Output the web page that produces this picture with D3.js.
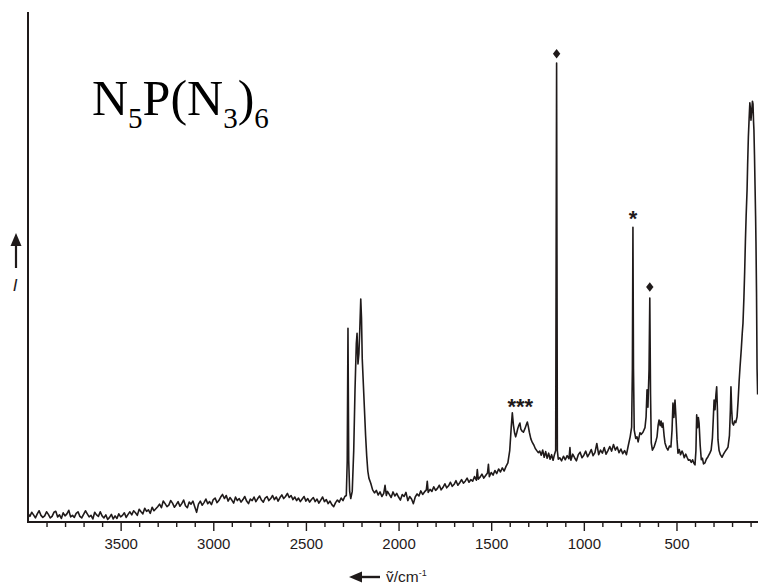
<!DOCTYPE html>
<html><head><meta charset="utf-8">
<script src="https://cdn.jsdelivr.net/npm/d3@7"></script>
<style>body{margin:0;background:#fff} svg{display:block}</style>
</head><body>
<svg id="c" width="758" height="586"></svg>
<script>
// x axis: wavenumber (cm^-1), reversed
const majorTicks = [3500, 3000, 2500, 2000, 1500, 1000, 500];
const minorStep = 100;
// spectrum: [wavenumber, relative intensity]
const spectrum = [
[4000,1.7],[3990,1.1],[3980,1.9],[3970,1.4],[3960,0.8],[3950,1.6],[3940,2.2],[3930,1.3],[3920,0.9],[3910,1.2],
[3900,2.0],[3890,1.5],[3880,0.8],[3870,1.1],[3860,1.9],[3850,2.1],[3840,1.0],[3830,1.4],[3820,0.7],[3810,1.8],
[3800,1.2],[3790,1.6],[3780,2.3],[3770,1.0],[3760,1.3],[3750,0.9],[3740,1.7],[3730,2.0],[3720,1.1],[3710,0.8],
[3700,1.5],[3690,2.2],[3680,1.6],[3670,1.0],[3660,1.3],[3650,0.6],[3640,1.9],[3630,1.4],[3620,1.1],[3610,2.0],
[3600,1.2],[3590,0.8],[3580,1.4],[3570,0.5],[3560,0.9],[3550,1.5],[3540,0.6],[3530,1.2],[3520,0.7],[3510,1.6],
[3500,1.0],[3490,1.3],[3480,1.8],[3470,0.9],[3460,1.5],[3450,2.0],[3440,1.4],[3430,2.2],[3420,1.8],[3410,1.3],
[3400,2.5],[3390,2.0],[3380,1.6],[3370,2.7],[3360,2.1],[3350,2.4],[3340,1.7],[3330,2.9],[3320,2.2],[3310,2.6],
[3300,3.0],[3290,3.5],[3280,2.8],[3270,4.1],[3260,3.6],[3250,3.0],[3240,3.3],[3230,4.2],[3220,3.7],[3210,2.9],
[3200,3.4],[3190,4.0],[3180,3.1],[3170,3.6],[3160,4.3],[3150,3.2],[3140,2.8],[3130,3.9],[3120,3.5],[3110,4.1],
[3100,3.0],[3090,1.9],[3080,3.5],[3070,4.1],[3060,3.3],[3050,3.8],[3040,4.5],[3030,3.6],[3020,4.0],[3010,3.4],
[3000,4.4],[2990,4.7],[2980,3.8],[2970,4.2],[2960,4.9],[2950,5.4],[2940,4.6],[2930,5.2],[2920,4.1],[2910,4.8],
[2900,4.3],[2890,3.7],[2880,4.9],[2870,4.2],[2860,4.6],[2850,3.9],[2840,4.4],[2830,5.0],[2820,4.1],[2810,3.6],
[2800,4.5],[2790,4.2],[2780,4.9],[2770,4.0],[2760,4.6],[2750,5.1],[2740,4.3],[2730,3.9],[2720,4.7],[2710,5.0],
[2700,4.2],[2690,4.6],[2680,5.2],[2670,4.4],[2660,4.9],[2650,4.1],[2640,4.8],[2630,5.3],[2620,4.6],[2610,5.0],
[2600,5.6],[2590,4.8],[2580,5.2],[2570,4.4],[2560,4.9],[2550,4.2],[2540,4.7],[2530,4.0],[2520,4.5],[2510,5.0],
[2500,4.1],[2490,4.6],[2480,3.9],[2470,4.4],[2460,4.8],[2450,4.0],[2440,4.5],[2430,3.7],[2420,4.3],[2410,4.9],
[2400,4.0],[2390,4.4],[2380,3.6],[2370,4.1],[2360,3.4],[2350,3.0],[2340,3.8],[2330,4.3],[2320,3.9],[2310,4.7],
[2300,4.2],[2290,5.0],[2282,5.2],[2277,12],[2273,38],[2269,12],[2264,6.0],[2258,4.6],[2250,6.0],[2242,14],
[2235,26],[2228,35],[2224,37],[2219,31],[2214,33],[2209,38],[2204,43.7],[2200,40],[2196,32],[2190,27],
[2184,22],[2178,17],[2172,13],[2166,10],[2160,8.6],[2150,7.6],[2140,6.3],[2130,5.7],[2120,6.2],[2110,5.3],
[2100,5.9],[2090,5.0],[2080,5.6],[2073,7.2],[2066,5.2],[2060,6.0],[2050,5.4],[2040,4.8],[2030,5.9],[2020,5.1],
[2010,5.6],[2000,4.9],[1990,4.3],[1980,5.4],[1970,5.0],[1960,5.8],[1950,4.2],[1940,5.0],[1930,4.5],[1920,3.6],
[1910,4.9],[1900,5.5],[1890,5.1],[1880,6.1],[1870,5.4],[1860,5.9],[1850,6.3],[1845,8.0],[1840,5.8],[1830,6.4],
[1820,6.0],[1810,6.9],[1800,6.2],[1790,6.6],[1780,7.2],[1770,6.3],[1760,6.8],[1750,7.5],[1740,6.7],[1730,7.1],
[1720,7.8],[1710,7.0],[1700,7.4],[1690,8.1],[1680,7.2],[1670,7.7],[1660,8.3],[1650,7.6],[1640,8.0],[1630,8.6],
[1620,7.8],[1610,8.3],[1600,8.0],[1590,8.9],[1580,8.2],[1575,10.3],[1570,8.4],[1560,8.8],[1550,9.4],[1540,8.6],
[1530,9.1],[1520,9.6],[1515,11.3],[1510,8.9],[1500,9.7],[1490,9.2],[1480,10.1],[1470,9.5],[1460,10.4],[1450,9.8],
[1440,10.6],[1430,10.0],[1420,10.9],[1410,11.6],[1400,14.0],[1392,18.5],[1386,21.4],[1380,19.0],[1374,17.5],[1368,16.7],
[1362,17.5],[1356,18.4],[1350,19.0],[1345,19.4],[1340,18.2],[1333,17.8],[1326,17.6],[1318,18.3],[1311,19.0],[1305,19.6],
[1300,18.8],[1294,17.6],[1286,16.3],[1278,15.6],[1270,15.1],[1262,14.4],[1254,14.0],[1246,13.6],[1238,13.9],[1230,13.1],
[1222,14.1],[1214,12.7],[1206,13.8],[1198,12.5],[1190,13.5],[1182,12.3],[1174,13.2],[1166,12.1],[1158,13.3],[1152,14.0],
[1147,90],[1143,14.0],[1138,12.3],[1130,12.6],[1120,12.0],[1110,12.9],[1100,12.2],[1090,13.0],[1080,12.4],[1075,14.6],
[1070,12.1],[1060,13.3],[1050,12.6],[1040,12.0],[1030,13.2],[1020,13.7],[1010,12.6],[1000,13.1],[990,13.9],[980,12.8],
[970,13.4],[960,14.2],[950,13.0],[940,13.6],[930,15.4],[920,13.2],[910,14.1],[900,13.5],[890,14.6],[880,13.3],
[870,14.0],[860,14.8],[850,13.9],[840,15.2],[830,14.1],[820,14.7],[810,13.6],[800,14.3],[790,13.4],[780,14.0],
[770,13.2],[760,15.0],[750,16.7],[742,18.6],[738,30],[735,57.8],[732,30],[728,18],[720,16.4],[713,16.7],
[707,15.7],[697,17.5],[690,17.2],[681,17.6],[670,18.5],[664,20.6],[659,25.9],[654,22.5],[648,30],[644,43.9],
[640,25],[636,15.5],[630,14.1],[620,14.8],[610,16],[605,16.7],[599,19],[594,20],[588,18.9],[583,19.8],
[578,18.6],[573,19.4],[567,17],[562,15.5],[554,14.6],[546,14.1],[538,14.9],[530,14.7],[524,18],[519,23.3],
[514,20.5],[508,23.9],[502,20],[497,16.1],[492,13.5],[485,14.2],[478,13.2],[470,13.9],[465,13.5],[458,12.6],
[450,13.3],[443,12.7],[435,12.1],[427,12.2],[420,11.7],[413,12.2],[406,11.5],[400,11.2],[395,14],[391,21],
[386,18.5],[382,20.5],[378,19.4],[372,15],[366,12.2],[360,12.5],[354,11.4],[346,11.6],[339,12.3],[330,12.8],
[320,13.5],[313,14.1],[306,16.5],[301,20.5],[297,23.9],[292,22],[287,25],[283,26.5],[279,22],[276,16.1],
[270,14],[263,13.2],[254,12.7],[246,13.3],[238,13.8],[230,14.2],[222,14.7],[214,17],[209,22],[206,26.5],
[202,22],[198,19.4],[192,19],[186,19.8],[180,19.5],[173,20.6],[167,24],[162,27.5],[157,30.4],[150,34],
[145,37],[141,39],[136,44],[132,49],[128,55],[124,60],[119,65.1],[116,70],[112,75.5],[108,79],
[104,82.2],[101,81],[98,78.8],[94,80.5],[90,82.5],[87,82],[84,78.5],[82,76.9],[79,72],[76,66],
[73,60],[71,55],[68,45],[65,30],[62,25]
];
// band markers: wavenumber, intensity of marker centre, symbol
const markers = [
  {wn: 1147, I: 91.8, kind: "diamond"},
  {wn: 644,  I: 46.1, kind: "diamond"},
  {wn: 735,  I: 60.6, kind: "star", text: "*"},
  {wn: 1343, I: 23.7, kind: "star", text: "***"}
];
const compoundLabel = [["N",""],["5","sub"],["P(N",""],["3","sub"],[")",""],["6","sub"]];
const xTitle = "ṽ/cm";
const xTitleSup = "-1";
const yTitle = "I";

const svg = d3.select("#c");
const mLeft = 28, mRight = 758, mTop = 12, mBottom = 522;
const x = d3.scaleLinear().domain([4000, 60]).range([mLeft, mRight]);
const y = d3.scaleLinear().domain([0, 100]).range([mBottom, mTop]);
const ink = "#1f1a1a";
const sans = "'Liberation Sans', Arial, sans-serif";

// spectrum
svg.append("path")
  .datum(spectrum)
  .attr("fill", "none")
  .attr("stroke", ink)
  .attr("stroke-width", 1.6)
  .attr("stroke-linejoin", "round")
  .attr("d", d3.line().x(d => x(d[0])).y(d => y(d[1])));

// x axis ticks
const minor = d3.range(minorStep, 4000, minorStep).filter(v => v % 500 !== 0);
const gx = svg.append("g").attr("transform", `translate(0,${mBottom})`);
gx.append("g").call(d3.axisBottom(x).tickValues(minor).tickSize(5).tickFormat(""))
  .call(g => g.select(".domain").remove())
  .call(g => g.selectAll("line").attr("stroke", ink).attr("stroke-width", 1.4));
gx.append("g").call(d3.axisBottom(x).tickValues(majorTicks).tickSize(9).tickPadding(7).tickFormat(d3.format("d")))
  .call(g => g.select(".domain").remove())
  .call(g => g.selectAll("text").attr("font-size", 15).attr("font-family", sans).attr("fill", ink))
  .call(g => g.selectAll("line").attr("stroke", ink).attr("stroke-width", 1.4));

// axes lines
svg.append("line").attr("x1", mLeft).attr("x2", mRight).attr("y1", mBottom).attr("y2", mBottom)
  .attr("stroke", ink).attr("stroke-width", 2);
svg.append("line").attr("x1", mLeft).attr("x2", mLeft).attr("y1", mTop).attr("y2", mBottom + 1)
  .attr("stroke", ink).attr("stroke-width", 2);

// markers
markers.forEach(m => {
  const cx = x(m.wn), cy = y(m.I);
  if (m.kind === "diamond") {
    svg.append("path")
      .attr("d", d3.symbol(d3.symbolDiamond, 26)())
      .attr("transform", `translate(${cx},${cy}) scale(1.35,1)`)
      .attr("fill", ink);
  } else {
    svg.append("text").attr("x", cx).attr("y", cy + 13)
      .attr("text-anchor", "middle").attr("font-family", sans)
      .attr("font-weight", "bold")
      .attr("font-size", 22).attr("fill", ink).text(m.text);
  }
});

// compound label
const lab = svg.append("text").attr("x", 92).attr("y", 115)
  .attr("font-family", "'Liberation Serif', 'Times New Roman', serif")
  .attr("font-size", 50).attr("fill", "#000");
compoundLabel.forEach(([t, k], i) => {
  const prev = i > 0 ? compoundLabel[i - 1][1] : "";
  const dy = k === "sub" ? 13 : (prev === "sub" ? -13 : 0);
  lab.append("tspan").attr("dy", dy).attr("font-size", k === "sub" ? 29 : 50).text(t);
});

// x title with arrow
const ax = svg.append("g");
ax.append("line").attr("x1", 360).attr("x2", 380).attr("y1", 577).attr("y2", 577)
  .attr("stroke", ink).attr("stroke-width", 2.4);
ax.append("path").attr("d", d3.line()([[349, 577], [362, 571.5], [362, 582.5]]) + "Z").attr("fill", ink);
const xt = ax.append("text").attr("x", 386).attr("y", 582).attr("font-family", sans)
  .attr("font-size", 15.5).attr("fill", ink);
xt.append("tspan").text(xTitle);
xt.append("tspan").attr("dy", -6).attr("font-size", 9).text(xTitleSup);

// y title with arrow
const ay = svg.append("g");
ay.append("line").attr("x1", 16).attr("x2", 16).attr("y1", 244).attr("y2", 268)
  .attr("stroke", ink).attr("stroke-width", 2.2);
ay.append("path").attr("d", d3.line()([[16, 233], [10.5, 246], [21.5, 246]]) + "Z").attr("fill", ink);
ay.append("text").attr("x", 15).attr("y", 291).attr("text-anchor", "middle")
  .attr("font-family", sans).attr("font-style", "italic").attr("font-size", 17)
  .attr("fill", ink).text(yTitle);
</script>
</body></html>
